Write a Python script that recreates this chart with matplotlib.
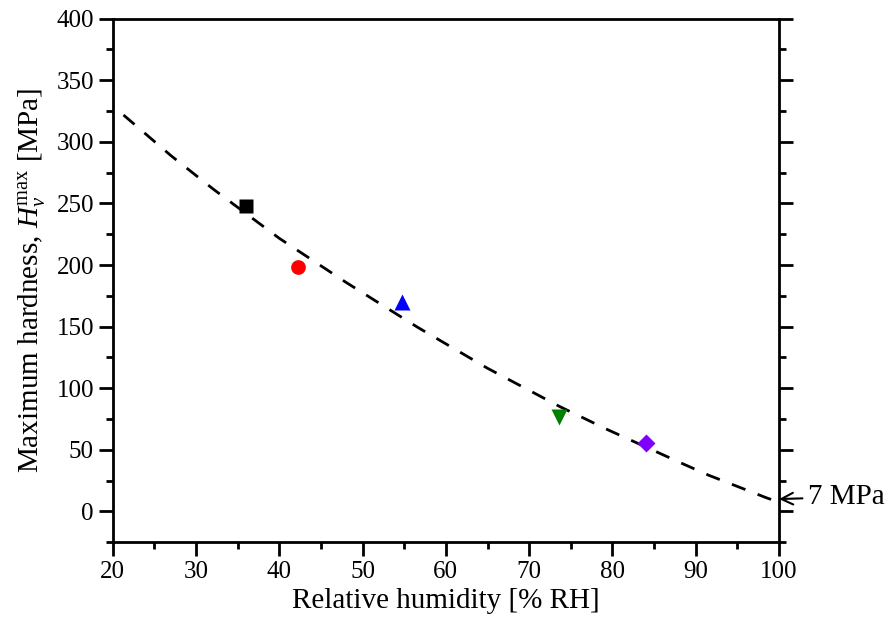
import numpy as np
import matplotlib.pyplot as plt
from matplotlib.ticker import MultipleLocator

plt.rcParams['font.family'] = 'Liberation Serif'
plt.rcParams['mathtext.fontset'] = 'custom'
plt.rcParams['mathtext.rm'] = 'Liberation Serif'
plt.rcParams['mathtext.it'] = 'Liberation Serif:italic'

# measured points
rh = [36.0, 42.2, 54.7, 73.6, 84.0]
hv = [248.2, 198.2, 170.0, 76.5, 55.3]
markers = ['s', 'o', '^', 'v', 'D']
colors = ['black', 'red', 'blue', 'green', '#8000ff']
sizes = [9.4, 10.6, 12, 12, 9]

# dashed trend line
fit_rh = [21.3, 27.0, 32.1, 40.0, 48.0, 56.6, 65.0, 73.7, 79.5, 88.5, 91.5, 98.5, 100.0]
fit_hv = [321.8, 288.8, 261.5, 221.7, 186.0, 149.5, 116.2, 85.0, 66.1, 38.5, 29.5, 11.0, 7.5]

fig = plt.figure(figsize=(8.88, 6.19), dpi=100)
ax = fig.add_axes([0.1269, 0.1241, 0.7504, 0.8457])

ax.plot(fit_rh, fit_hv, color='black', lw=2, dashes=(5.2, 4.7))
for x, y, m, c, s in zip(rh, hv, markers, colors, sizes):
    ax.plot(x, y, marker=m, color=c, ms=s, ls='none', mec='none')

ax.set_xlim(20, 100)
ax.set_ylim(-25, 400)
ax.xaxis.set_major_locator(MultipleLocator(10))
ax.xaxis.set_minor_locator(MultipleLocator(5))
ax.yaxis.set_major_locator(MultipleLocator(50))
ax.yaxis.set_minor_locator(MultipleLocator(25))

for sp in ax.spines.values():
    sp.set_linewidth(2)
ax.tick_params(which='both', direction='out', width=2, labelsize=18,
               left=True, right=True, bottom=True, top=False, labelright=False)
ax.tick_params(which='major', length=10)
ax.tick_params(which='minor', length=5)

ax.set_xlabel('Relative humidity [% RH]', fontsize=21, labelpad=4)
ax.set_ylabel(r'Maximum hardness, $H_v^{\mathrm{max}}$ [MPa]', fontsize=21, labelpad=6)

ax.annotate('7 MPa', xy=(100, 10), xytext=(808, 619 - 497), textcoords='figure pixels',
            fontsize=21, va='center', ha='left',
            arrowprops=dict(arrowstyle='->', color='black', lw=1.5, shrinkA=2, shrinkB=0),
            annotation_clip=False)

fig.savefig('out.png', dpi=100)
